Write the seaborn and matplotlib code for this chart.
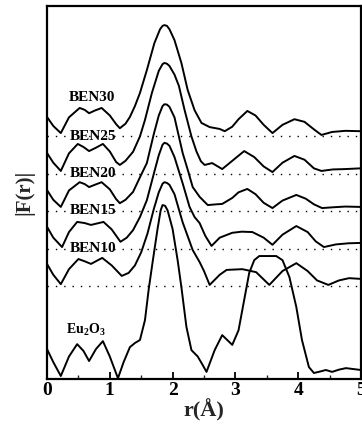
import numpy as np
import pandas as pd
import seaborn as sns
import matplotlib
matplotlib.use("Agg")
import matplotlib.pyplot as plt

# |F(r)|, each curve relative to its own dotted baseline
r_ben30 = [0.00, 0.10, 0.22, 0.35, 0.52, 0.60, 0.67, 0.76, 0.87, 1.00, 1.10, 1.16, 1.25, 1.32, 1.40, 1.48, 1.59, 1.71, 1.80, 1.84,
           1.87, 1.91, 1.95, 2.03, 2.14, 2.24, 2.35, 2.46, 2.59, 2.75, 2.83, 2.95, 3.05, 3.19, 3.32, 3.45, 3.59, 3.75, 3.94, 4.10,
           4.25, 4.37, 4.54, 4.75, 5.00]
f_ben30 = [0.51, 0.27, 0.08, 0.50, 0.75, 0.70, 0.61, 0.68, 0.75, 0.55, 0.32, 0.21, 0.33, 0.51, 0.80, 1.15, 1.76, 2.48, 2.85, 2.94,
           2.96, 2.94, 2.85, 2.56, 1.95, 1.23, 0.69, 0.35, 0.24, 0.19, 0.13, 0.25, 0.45, 0.67, 0.55, 0.30, 0.08, 0.30, 0.45, 0.38,
           0.18, 0.03, 0.11, 0.14, 0.13]

r_ben25 = [0.00, 0.10, 0.22, 0.35, 0.49, 0.58, 0.67, 0.78, 0.89, 1.00, 1.10, 1.16, 1.25, 1.37, 1.48, 1.56, 1.67, 1.78, 1.84, 1.87,
           1.91, 1.95, 2.03, 2.10, 2.19, 2.30, 2.38, 2.45, 2.51, 2.63, 2.79, 2.95, 3.14, 3.30, 3.45, 3.59, 3.75, 3.94, 4.10, 4.25,
           4.37, 4.55, 4.75, 5.00]
f_ben25 = [0.56, 0.30, 0.08, 0.55, 0.80, 0.72, 0.61, 0.70, 0.80, 0.60, 0.32, 0.24, 0.35, 0.59, 1.00, 1.44, 2.16, 2.75, 2.93, 2.96,
           2.94, 2.88, 2.65, 2.35, 1.71, 1.00, 0.60, 0.34, 0.24, 0.29, 0.13, 0.35, 0.61, 0.45, 0.20, 0.05, 0.30, 0.48, 0.38, 0.15,
           0.08, 0.12, 0.13, 0.15]

r_ben20 = [0.00, 0.10, 0.22, 0.35, 0.52, 0.60, 0.67, 0.76, 0.87, 1.00, 1.10, 1.16, 1.25, 1.37, 1.48, 1.59, 1.70, 1.78, 1.84, 1.87,
           1.91, 1.95, 2.03, 2.16, 2.25, 2.32, 2.43, 2.56, 2.70, 2.79, 2.95, 3.05, 3.19, 3.32, 3.45, 3.59, 3.75, 3.97, 4.12, 4.25,
           4.38, 4.55, 4.75, 5.00]
f_ben20 = [0.56, 0.30, 0.11, 0.55, 0.77, 0.72, 0.64, 0.70, 0.77, 0.58, 0.32, 0.21, 0.30, 0.51, 0.90, 1.28, 2.05, 2.55, 2.80, 2.85,
           2.84, 2.78, 2.50, 1.55, 1.05, 0.64, 0.38, 0.16, 0.18, 0.19, 0.35, 0.50, 0.59, 0.45, 0.22, 0.08, 0.28, 0.43, 0.33, 0.18,
           0.08, 0.10, 0.12, 0.11]

r_ben15 = [0.00, 0.10, 0.24, 0.35, 0.48, 0.60, 0.70, 0.80, 0.90, 1.03, 1.17, 1.27, 1.37, 1.48, 1.59, 1.70, 1.78, 1.84, 1.87, 1.91,
           1.95, 2.03, 2.16, 2.27, 2.35, 2.43, 2.52, 2.62, 2.75, 2.95, 3.10, 3.27, 3.45, 3.59, 3.75, 3.97, 4.15, 4.28, 4.41, 4.60,
           4.80, 5.00]
f_ben15 = [0.59, 0.30, 0.05, 0.45, 0.72, 0.69, 0.64, 0.68, 0.72, 0.52, 0.19, 0.30, 0.50, 0.85, 1.30, 2.00, 2.50, 2.78, 2.83, 2.81,
           2.75, 2.45, 1.75, 1.12, 0.85, 0.69, 0.35, 0.08, 0.30, 0.43, 0.46, 0.45, 0.30, 0.11, 0.38, 0.61, 0.45, 0.20, 0.05, 0.12,
           0.15, 0.16]

r_ben10 = [0.00, 0.10, 0.22, 0.35, 0.50, 0.60, 0.70, 0.80, 0.88, 1.03, 1.19, 1.30, 1.40, 1.50, 1.60, 1.70, 1.78, 1.84, 1.87, 1.91,
           1.95, 2.03, 2.16, 2.32, 2.43, 2.50, 2.59, 2.75, 2.86, 3.11, 3.33, 3.54, 3.75, 3.97, 4.15, 4.30, 4.48, 4.65, 4.81, 5.00]
f_ben10 = [0.59, 0.30, 0.05, 0.45, 0.72, 0.66, 0.59, 0.68, 0.75, 0.55, 0.27, 0.35, 0.55, 0.90, 1.40, 2.05, 2.50, 2.73, 2.77, 2.75,
           2.70, 2.45, 1.70, 0.96, 0.64, 0.40, 0.03, 0.30, 0.43, 0.45, 0.37, 0.03, 0.40, 0.61, 0.40, 0.15, 0.03, 0.15, 0.21, 0.19]

r_eu2o3 = [0.00, 0.10, 0.22, 0.35, 0.48, 0.58, 0.67, 0.78, 0.89, 1.00, 1.13, 1.22, 1.32, 1.40, 1.48, 1.56, 1.62, 1.68, 1.76, 1.81,
           1.84, 1.88, 1.92, 2.00, 2.08, 2.14, 2.22, 2.30, 2.40, 2.47, 2.54, 2.67, 2.79, 2.95, 3.05, 3.11, 3.22, 3.30, 3.38, 3.65,
           3.75, 3.86, 3.97, 4.06, 4.17, 4.25, 4.35, 4.44, 4.54, 4.65, 4.76, 5.00]
f_eu2o3 = [0.80, 0.45, 0.08, 0.60, 0.93, 0.75, 0.48, 0.80, 1.01, 0.60, 0.02, 0.45, 0.85, 0.96, 1.04, 1.57, 2.40, 3.10, 4.00, 4.50,
           4.64, 4.62, 4.50, 4.00, 3.17, 2.45, 1.39, 0.77, 0.60, 0.40, 0.19, 0.77, 1.17, 0.91, 1.30, 1.84, 2.83, 3.17, 3.28, 3.28,
           3.17, 2.72, 1.92, 1.04, 0.32, 0.16, 0.20, 0.24, 0.19, 0.25, 0.29, 0.24]

names = ["BEN30", "BEN25", "BEN20", "BEN15", "BEN10", "Eu2O3"]
labels = ["BEN30", "BEN25", "BEN20", "BEN15", "BEN10", "Eu$_2$O$_3$"]
x_ticks = [0, 1, 2, 3, 4, 5]

# vertical stacking of the curves (dotted baselines)
offsets = [6.48, 5.47, 4.48, 3.47, 2.48, 0.0]
label_pos = [(0.35, 7.52), (0.37, 6.48), (0.37, 5.49), (0.37, 4.50), (0.37, 3.49), (0.31, 1.30)]

curves = [(r_ben30, f_ben30), (r_ben25, f_ben25), (r_ben20, f_ben20),
          (r_ben15, f_ben15), (r_ben10, f_ben10), (r_eu2o3, f_eu2o3)]

sns.set_theme(style="ticks")
plt.rcParams["font.family"] = ["Liberation Serif", "DejaVu Serif"]
plt.rcParams["font.weight"] = "bold"
plt.rcParams["mathtext.fontset"] = "custom"
plt.rcParams["mathtext.rm"] = "Liberation Serif:bold"
plt.rcParams["mathtext.it"] = "Liberation Serif:bold"
plt.rcParams["mathtext.bf"] = "Liberation Serif:bold"
plt.rcParams["lines.solid_joinstyle"] = "round"

fig = plt.figure(figsize=(3.62, 4.24), dpi=100)
ax = fig.add_axes([47 / 362, 1 - 379 / 424, 314 / 362, 373 / 424])

for name, (r, f), off in zip(names, curves, offsets):
    df = pd.DataFrame({"r": r, "F": np.array(f) + off})
    sns.lineplot(data=df, x="r", y="F", ax=ax, color="black", lw=1.4,
                 sort=False, estimator=None)
    if off > 0:
        ax.axhline(off, color="black", lw=1.0, ls=(0, (1, 5)))

for lab, (lx, ly) in zip(labels, label_pos):
    fs = 11 if lab.startswith("BEN") else 10
    ax.text(lx, ly, lab, fontsize=fs, fontweight="bold", ha="left", va="center",
            color="black")

ax.set_xlim(0, 5)
ax.set_ylim(0, 9.95)
ax.set_xticks(x_ticks)
ax.set_xticks(np.arange(0, 5.01, 0.5), minor=True)
ax.set_xticklabels([str(t) for t in x_ticks], fontsize=14, fontweight="bold")
ax.set_yticks([])
ax.tick_params(axis="x", which="major", direction="in", length=5, width=1.3, pad=2, colors="black")
ax.tick_params(axis="x", which="minor", direction="in", length=3, width=1.0)
for s in ax.spines.values():
    s.set_visible(True)
    s.set_linewidth(1.6)
    s.set_color("black")

ax.set_xlabel("r(Å)", fontsize=16, fontweight="bold", labelpad=0)
ax.set_ylabel("|F(r)|", fontsize=15, fontweight="bold")
ax.yaxis.set_label_coords(-0.04, 0.5)

fig.savefig("out.png", dpi=100, facecolor="white")
